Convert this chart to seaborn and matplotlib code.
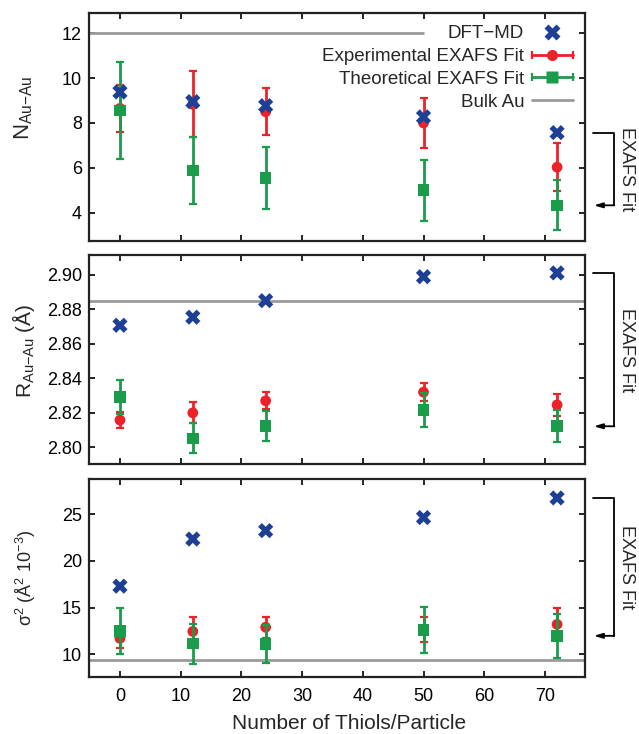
import matplotlib
matplotlib.use("Agg")
import matplotlib.pyplot as plt
import matplotlib.transforms as mtransforms
from matplotlib.lines import Line2D
from matplotlib.legend_handler import HandlerBase
import seaborn as sns
import pandas as pd

# ---------------- data ----------------
thiols = [0, 12, 24, 50, 72]

N_dft = [9.38, 8.95, 8.77, 8.27, 7.57]
N_exp = [8.65, 8.83, 8.50, 8.00, 6.03]
N_exp_err = [1.05, 1.47, 1.05, 1.12, 1.08]
N_theo = [8.56, 5.88, 5.56, 5.00, 4.33]
N_theo_err = [2.17, 1.50, 1.38, 1.37, 1.12]
N_bulk = 12.0

R_dft = [2.8708, 2.8755, 2.8851, 2.8990, 2.9012]
R_exp = [2.8158, 2.8200, 2.8270, 2.8320, 2.8246]
R_exp_err = [0.0046, 0.0060, 0.0049, 0.0051, 0.0062]
R_theo = [2.8291, 2.8052, 2.8123, 2.8215, 2.8122]
R_theo_err = [0.0097, 0.0087, 0.0085, 0.0098, 0.0094]
R_bulk = 2.885

S_dft = [17.3, 22.35, 23.25, 24.65, 26.75]
S_exp = [11.71, 12.45, 12.90, 12.69, 13.21]
S_exp_err = [1.07, 1.60, 1.13, 1.34, 1.72]
S_theo = [12.50, 11.15, 11.10, 12.58, 11.98]
S_theo_err = [2.42, 2.15, 2.05, 2.48, 2.34]
S_bulk = 9.4

top_bulk_end = 50  # bulk line in the top panel stops before the key

x_ticks = [0, 10, 20, 30, 40, 50, 60, 70]
N_ticks = [4, 6, 8, 10, 12]
R_ticks = [2.80, 2.82, 2.84, 2.86, 2.88, 2.90]
S_ticks = [10, 15, 20, 25]

labels = ["DFT\u2212MD", "Experimental EXAFS Fit", "Theoretical EXAFS Fit", "Bulk Au"]

# ---------------- style ----------------
sns.set_style("ticks")
plt.rcParams["font.family"] = ["Liberation Sans", "DejaVu Sans"]
plt.rcParams["mathtext.fontset"] = "custom"
plt.rcParams["mathtext.rm"] = "Liberation Sans"
plt.rcParams["mathtext.it"] = "Liberation Sans:italic"
plt.rcParams["mathtext.bf"] = "Liberation Sans:bold"

BLUE = "#1d3f95"
RED = "#ec2228"
GREEN = "#1a9c4b"
GRAY = "#9a9a9a"

fig = plt.figure(figsize=(6.39, 7.34), dpi=100)
W, H = 639, 734
left, right = 89, 585


def make_ax(top, bottom):
    return fig.add_axes([left / W, 1 - bottom / H, (right - left) / W, (bottom - top) / H])


ax1 = make_ax(13, 241)
ax2 = make_ax(255, 464)
ax3 = make_ax(479, 677)

xlim = (-5.1, 76.6)
panels = [
    (ax1, N_dft, N_exp, N_exp_err, N_theo, N_theo_err, N_bulk, (2.74, 12.9), N_ticks, "%g"),
    (ax2, R_dft, R_exp, R_exp_err, R_theo, R_theo_err, R_bulk, (2.7903, 2.9116), R_ticks, "%.2f"),
    (ax3, S_dft, S_exp, S_exp_err, S_theo, S_theo_err, S_bulk, (7.57, 28.78), S_ticks, "%g"),
]

for i, (ax, dft, exp, experr, theo, theoerr, bulk, ylim, yt, fmt) in enumerate(panels):
    df = pd.DataFrame({"x": thiols, "dft": dft, "exp": exp, "theo": theo})
    # bulk line
    if i == 0:
        ax.hlines(bulk, xlim[0], top_bulk_end, color=GRAY, lw=2, zorder=1)
    else:
        ax.axhline(bulk, color=GRAY, lw=2, zorder=1)
    # experimental
    ax.errorbar(thiols, exp, yerr=experr, fmt="none", ecolor=RED, elinewidth=2,
                capsize=2.6, capthick=1.6, zorder=2)
    sns.scatterplot(data=df, x="x", y="exp", ax=ax, marker="o", s=60, color=RED,
                    edgecolor="none", zorder=3, legend=False)
    # theoretical
    ax.errorbar(thiols, theo, yerr=theoerr, fmt="none", ecolor=GREEN, elinewidth=2,
                capsize=2.6, capthick=1.6, zorder=4)
    sns.scatterplot(data=df, x="x", y="theo", ax=ax, marker="s", s=70, color=GREEN,
                    edgecolor="none", zorder=5, legend=False)
    # DFT-MD
    sns.scatterplot(data=df, x="x", y="dft", ax=ax, marker="X", s=120, color=BLUE,
                    edgecolor="none", zorder=6, legend=False)

    ax.set_xlim(*xlim)
    ax.set_ylim(*ylim)
    ax.set_xticks(x_ticks)
    ax.set_yticks(yt)
    ax.yaxis.set_major_formatter(matplotlib.ticker.FormatStrFormatter(fmt))
    ax.tick_params(direction="in", top=True, right=True, length=4, width=1.2,
                   labelsize=13, colors="black", pad=5)
    ax.tick_params(axis="x", pad=8)
    for sp in ax.spines.values():
        sp.set_visible(True)
        sp.set_linewidth(1.6)
        sp.set_color("#222222")
    ax.set_xlabel("")
    if i < 2:
        ax.tick_params(labelbottom=False)

    # bracket "EXAFS Fit"
    trans = mtransforms.blended_transform_factory(ax.transAxes, ax.transData)
    ytop, ybot = dft[-1], theo[-1]
    ax.add_line(Line2D([1.016, 1.058, 1.058], [ytop, ytop, ybot], transform=trans,
                       color="black", lw=1.3, clip_on=False))
    ax.annotate("", xy=(1.018, ybot), xytext=(1.059, ybot), xycoords=trans,
                textcoords=trans,
                arrowprops=dict(arrowstyle="-|>,head_length=0.5,head_width=0.15",
                                color="black", lw=1.3, shrinkA=0, shrinkB=0),
                annotation_clip=False)
    ax.text(1.084, (ytop + ybot) / 2, "EXAFS Fit", transform=trans, rotation=270,
            ha="center", va="center", fontsize=13, clip_on=False)

ax1.set_ylabel(r"N$_{\mathregular{Au{-}Au}}$", fontsize=16)
ax1.yaxis.set_label_coords(-0.108, 0.583)
ax2.set_ylabel(r"R$_{\mathregular{Au{-}Au}}$ (Å)", fontsize=15)
ax2.yaxis.set_label_coords(-0.104, 0.54)
ax3.set_ylabel(r"σ$^{\mathregular{2}}$ (Å$^{\mathregular{2}}$ 10$^{\mathregular{-3}}$)", fontsize=13)
ax3.yaxis.set_label_coords(-0.102, 0.5)
ax3.set_xlabel("Number of Thiols/Particle", fontsize=15)
ax3.xaxis.set_label_coords(0.524, -0.237)
ax3.xaxis.label.set_va("center")


# legend with horizontal error-bar keys (gnuplot style)
class HErr(HandlerBase):
    def __init__(self, color, marker, ms):
        super().__init__()
        self.color, self.marker, self.ms = color, marker, ms

    def create_artists(self, legend, orig, xdescent, ydescent, width, height, fontsize, trans):
        y = height / 2 - ydescent
        x0, x1 = -xdescent, width - xdescent
        a = Line2D([x0, x1], [y, y], color=self.color, lw=2, transform=trans)
        b = Line2D([x0, x1], [y, y], ls="", marker="|", ms=6, mew=1.6, color=self.color,
                   transform=trans)
        c = Line2D([(x0 + x1) / 2], [y], ls="", marker=self.marker, ms=self.ms,
                   color=self.color, mec="none", transform=trans)
        return [a, b, c]


h_dft = Line2D([], [], ls="", marker="X", ms=11, color=BLUE, mec="none")
h_exp = Line2D([], [], color=RED)
h_theo = Line2D([], [], color=GREEN)
h_bulk = Line2D([], [], color=GRAY, lw=2)
leg = ax1.legend([h_dft, h_exp, h_theo, h_bulk], labels, loc="upper right",
                 markerfirst=False, frameon=False, fontsize=13.5, handlelength=2.2,
                 handletextpad=0.4, labelspacing=0.3, borderaxespad=0.25,
                 handler_map={h_exp: HErr(RED, "o", 8), h_theo: HErr(GREEN, "s", 8)})
for t in leg.get_texts():
    t.set_ha("right")

fig.savefig("out.png", dpi=100)
